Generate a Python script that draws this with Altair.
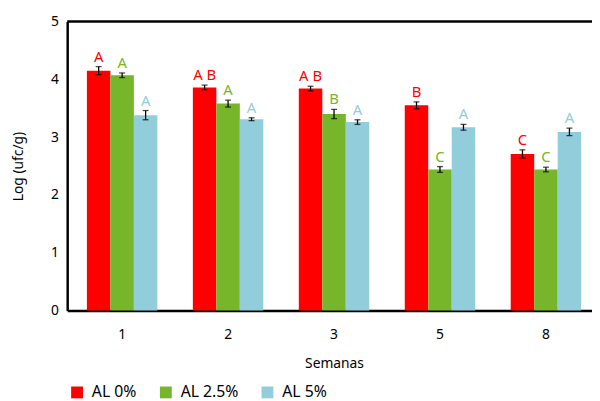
import altair as alt
import pandas as pd

semanas = ["1", "2", "3", "5", "8"]
series = ["AL 0%", "AL 2.5%", "AL 5%"]
colors = ["#FF0000", "#77B52B", "#92CDDC"]

v0 = [4.15, 3.86, 3.84, 3.55, 2.71]
v25 = [4.07, 3.58, 3.40, 2.44, 2.44]
v5 = [3.38, 3.31, 3.26, 3.17, 3.09]
e0 = [0.07, 0.04, 0.04, 0.06, 0.07]
e25 = [0.04, 0.06, 0.08, 0.05, 0.04]
e5 = [0.08, 0.025, 0.04, 0.05, 0.065]
l0 = ["A", "A B", "A B", "B", "C"]
l25 = ["A", "A", "B", "C", "C"]
l5 = ["A", "A", "A", "A", "A"]

rows = []
for s, vals, errs, lets in zip(series, [v0, v25, v5], [e0, e25, e5], [l0, l25, l5]):
    for w, v, e, l in zip(semanas, vals, errs, lets):
        rows.append({"semana": w, "serie": s, "valor": v, "lo": v - e, "hi": v + e, "letra": l})
df = pd.DataFrame(rows)

FONT = "Noto Sans"
W, H = 541, 293

xenc = alt.X("semana:N", sort=semanas, title="Semanas",
             scale=alt.Scale(paddingInner=0.335, paddingOuter=0.186),
             axis=alt.Axis(labelAngle=0, ticks=False, domainColor="black", domainWidth=2.5,
                           labelFontSize=14, labelPadding=17, titleFontSize=14,
                           titleFontWeight="normal", titlePadding=16, labelFont=FONT,
                           titleFont=FONT, labelColor="black", titleColor="black"))
xoff = alt.XOffset("serie:N", sort=series)
yscale = alt.Scale(domain=[0, 5], nice=False)
colorenc = alt.Color("serie:N", sort=series, scale=alt.Scale(domain=series, range=colors),
                     legend=alt.Legend(title=None, orient="none", legendX=2, legendY=368,
                                       direction="horizontal", symbolType="square",
                                       symbolSize=144, symbolStrokeWidth=0,
                                       labelFontSize=16, labelFont=FONT, labelColor="black",
                                       labelOffset=7, columnPadding=21, padding=0,
                                       labelLimit=200))

base = alt.Chart(df)

bars = base.mark_bar().encode(
    x=xenc, xOffset=xoff,
    y=alt.Y("valor:Q", scale=yscale, title="Log (ufc/g)",
            axis=alt.Axis(values=[0, 1, 2, 3, 4, 5], format="d", ticks=False, grid=False,
                          domainColor="black", domainWidth=2.5, labelFontSize=14,
                          labelPadding=9, titleFontSize=14, titleFontWeight="normal",
                          titlePadding=25, labelFont=FONT, titleFont=FONT,
                          labelColor="black", titleColor="black")),
    color=colorenc,
)

err = base.mark_rule(color="black", strokeWidth=1.3).encode(
    x=xenc, xOffset=xoff, y=alt.Y("lo:Q", scale=yscale), y2="hi:Q")
cap_lo = base.mark_tick(color="black", size=6, thickness=1.3).encode(
    x=xenc, xOffset=xoff, y=alt.Y("lo:Q", scale=yscale))
cap_hi = base.mark_tick(color="black", size=6, thickness=1.3).encode(
    x=xenc, xOffset=xoff, y=alt.Y("hi:Q", scale=yscale))

labels = base.mark_text(fontSize=15, font=FONT, baseline="alphabetic", dy=-5).encode(
    x=xenc, xOffset=xoff, y=alt.Y("hi:Q", scale=yscale), text="letra:N",
    color=alt.Color("serie:N", sort=series, scale=alt.Scale(domain=series, range=colors), legend=None))

top = alt.Chart(pd.DataFrame({"t": [5]})).mark_rule(color="black", strokeWidth=2.5).encode(
    y=alt.Y("t:Q", scale=yscale), x=alt.value(0), x2=alt.value(W))

chart = alt.layer(bars, err, cap_lo, cap_hi, labels, top).properties(
    width=W, height=H,
    autosize=alt.AutoSizeParams(type="none"),
    padding={"left": 60, "top": 11, "right": -9, "bottom": 89},
).configure_view(stroke=None)

chart.save("out.html", embed_options={"renderer": "svg", "actions": False})
